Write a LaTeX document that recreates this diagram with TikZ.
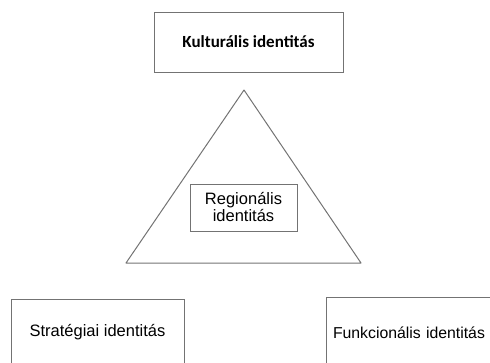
\documentclass[tikz,border=0pt]{standalone}
\usepackage{fontspec}
\setmainfont{Liberation Sans}
\newfontfamily\calibrifont{Carlito}

\begin{document}
\begin{tikzpicture}[x=1pt, y=-1pt]
                \tikzstyle{box}=[rectangle, draw=black!55, line width=1pt, inner sep=0pt]
                \tikzstyle{arialtext}=[font=\fontsize{16.5}{17}\selectfont]

                    \useasboundingbox (0,0) rectangle (490,362);
                    \clip (0,0) rectangle (490,362);

                    % Dobozok
                    \node[box, minimum width=189, minimum height=60,
                          font=\calibrifont\bfseries\fontsize{17}{18}\selectfont] (kult) at (248.5,42) {Kulturális identitás};
                    \node[box, arialtext, align=center, minimum width=107, minimum height=47] (reg) at (243.5,207.5) {Regionális\\identitás};
                    \node[box, arialtext, minimum width=173, minimum height=66] (strat) at (97.5,332) {Stratégiai identitás};
                    \node[box, font=\fontsize{15.8}{17}\selectfont, align=left, text width=170, inner xsep=7pt, minimum height=72] (funk) at (418,333) {Funkcionális identitás};

                    % Háromszög
                    \coordinate (csucs) at (244,90);
                    \coordinate (bal) at (126,263);
                    \coordinate (jobb) at (361,263);
                    \draw[black!55, line width=1pt, line join=round] (csucs) -- (bal) -- (jobb) -- cycle;
            \end{tikzpicture}
\end{document}
